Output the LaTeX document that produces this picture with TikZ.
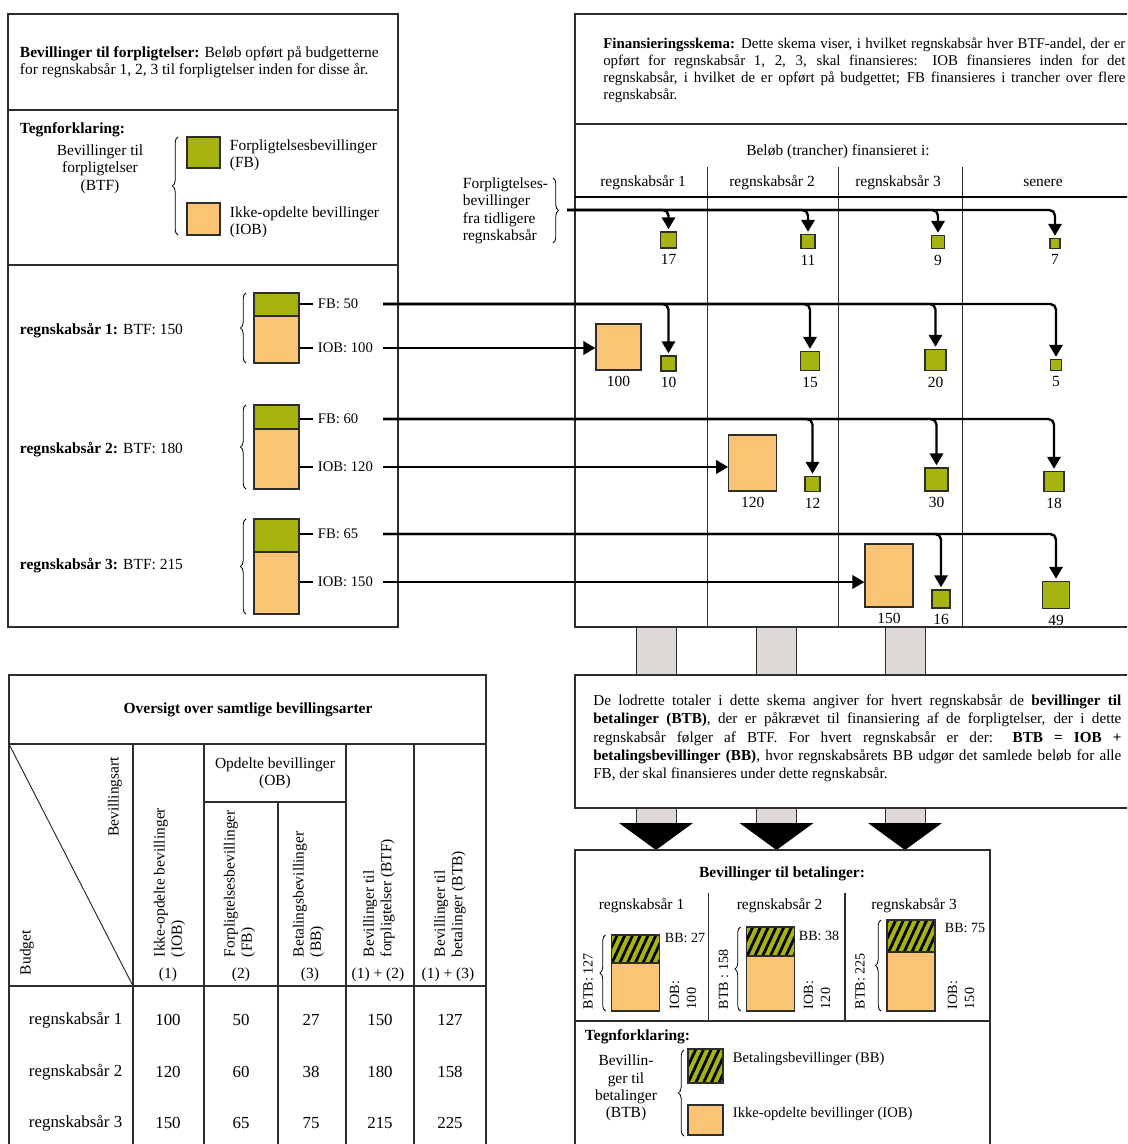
\documentclass[tikz,border=0pt]{standalone}
\usepackage{fontspec}
\setmainfont{Liberation Serif}
\usepackage{xcolor}
\usepackage{tikz}
\usetikzlibrary{arrows.meta,decorations.pathreplacing,patterns.meta,positioning}
\definecolor{fbgreen}{RGB}{167,180,15}
\definecolor{iobgold}{RGB}{249,197,116}
\definecolor{stemgrey}{RGB}{222,216,214}
\definecolor{rulegrey}{RGB}{45,45,45}

\tikzset{
  panel/.style={draw=rulegrey, line width=1pt},
  divider/.style={draw=rulegrey, line width=0.7pt},
  fbsq/.style={draw=rulegrey, line width=0.9pt, fill=fbgreen, inner sep=0pt, minimum size=(#1)*0.025cm},
  fbbar/.style 2 args={draw=rulegrey, line width=0.9pt, fill=fbgreen, inner sep=0pt, minimum width=(#1)*0.025cm, minimum height=(#2)*0.025cm},
  iobbar/.style 2 args={draw=rulegrey, line width=0.9pt, fill=iobgold, inner sep=0pt, minimum width=(#1)*0.025cm, minimum height=(#2)*0.025cm},
  bbbar/.style 2 args={draw=rulegrey, line width=0.9pt, preaction={fill=fbgreen}, pattern={Lines[angle=65,distance=5pt,line width=2pt]}, pattern color=black, inner sep=0pt, minimum width=(#1)*0.025cm, minimum height=(#2)*0.025cm},
  flow/.style={draw=black, line width=1.7pt, rounded corners=4pt, -{Triangle[width=9.5pt,length=8.5pt]}, shorten >=1.5pt},
  tick/.style={draw=black, line width=1.7pt},
  lbrace/.style={decorate, decoration={brace, amplitude=4pt}, line width=0.6pt},
  vlabel/.style={rotate=90, anchor=west, align=left},
  small/.style={font=\fontsize{10}{12}\selectfont},
  mid/.style={font=\fontsize{10.4}{12.5}\selectfont},
}

\begin{document}
\begin{tikzpicture}[x=0.025cm, y=-0.025cm, font=\fontsize{11}{12.4}\selectfont]
\useasboundingbox (0,0) rectangle (1127,1144);
\clip (0,0) rectangle (1127,1144);

% left panel: bevillinger til forpligtelser
\draw[panel] (8,14) rectangle (398,627);
\draw[panel] (8,110) -- (398,110);
\draw[panel] (8,265) -- (398,265);
\node[anchor=west, align=left] (btfhead) at (15,62)
  {\textbf{Bevillinger til forpligtelser:} Beløb opført på budgetterne\\for regnskabsår 1, 2, 3 til forpligtelser inden for disse år.};
\node[anchor=west] (legA) at (15,130) {\textbf{Tegnforklaring:}};
\node[align=center] (btfname) at (100,169) {Bevillinger til\\forpligtelser\\(BTF)};
\node[fbbar={33}{31}] (legfb) at (203.5,152.5) {};
\node[iobbar={33}{32}] (legiob) at (203.5,219) {};
\draw[lbrace] (178,235) -- (178,137);
\node[anchor=west, align=left] (legfbtxt) at (225,155) {Forpligtelsesbevillinger\\(FB)};
\node[anchor=west, align=left] (legiobtxt) at (225,222) {Ikke-opdelte bevillinger\\(IOB)};

\foreach \row/\gtop/\gbot/\obot/\fby/\ioby/\fbv/\iobv/\btf/\laby in
  {1/293/316/363/304/348/50/100/150/331,
   2/405/429/489/419/467/60/120/180/450,
   3/519/552/614/534/582/65/150/215/566}{
  \node[fbbar={45}{\gbot-\gtop}] (g\row) at (276.5,{(\gtop+\gbot)/2}) {};
  \node[iobbar={45}{\obot-\gbot}] (o\row) at (276.5,{(\gbot+\obot)/2}) {};
  \draw[lbrace] (246,\obot) -- (246,\gtop);
  \node[anchor=west] (yr\row) at (15,\laby) {\textbf{regnskabsår \row:} BTF: \btf};
  \node[anchor=west, mid] (fbl\row) at (313,\fby) {FB: \fbv};
  \node[anchor=west, mid] (iobl\row) at (313,\ioby) {IOB: \iobv};
  \draw[tick] (g\row.east |- fbl\row) -- (fbl\row.west);
  \draw[tick] (o\row.east |- iobl\row) -- (iobl\row.west);
  \coordinate (fbs\row) at (383,\fby);
  \coordinate (iobs\row) at (383,\ioby);
}

% block arrows down to the payment panel
\foreach \sx in {656,776.5,905}{
  \draw[divider, fill=stemgrey] (\sx-20,627) rectangle (\sx+20,675);
  \draw[divider, fill=stemgrey] (\sx-20,808) rectangle (\sx+20,824);
  \fill (\sx-37,823) -- (\sx+37,823) -- (\sx,850) -- cycle;
}

% right panel: finansieringsskema
\draw[panel] (1140,14) -- (575,14) -- (575,627) -- (1140,627);
\draw[panel] (575,124) -- (1140,124);
\foreach \cx in {707,838,962} \draw[divider] (\cx,167) -- (\cx,627);
\draw[line width=1.6pt] (575,197) -- (1140,197);
\node[anchor=north west, inner sep=0pt, text width=13.05cm, align=justify, font=\fontsize{10.6}{12.3}\selectfont] (finhead) at (603,37)
  {\textbf{Finansieringsskema:} Dette skema viser, i hvilket regnskabsår hver BTF-andel, der er\linebreak
   opført for regnskabsår 1, 2, 3, skal finansieres: IOB finansieres inden for det\linebreak
   regnskabsår, i hvilket de er opført på budgettet; FB finansieres i trancher over flere\linebreak
   regnskabsår.};
\node (belob) at (838,152) {Beløb (trancher) finansieret i:};
\node (col1) at (643,183) {regnskabsår 1};
\node (col2) at (772,183) {regnskabsår 2};
\node (col3) at (898,183) {regnskabsår 3};
\node (col4) at (1043,183) {senere};
\node[anchor=west, align=left] (prevtxt) at (458,211) {Forpligtelses-\\bevillinger\\fra tidligere\\regnskabsår};
\draw[lbrace] (553,178) -- (553,243);
\coordinate (prevs) at (567,210);

\foreach \sq/\sx/\sy/\sz/\val in {
   p17/668.5/240/16/17, p11/808/241.5/14/11, p9/938/242/13/9, p7/1055/243.5/10/7,
   q1a/668.5/363.5/15/10, q1b/810/361/19/15, q1c/935.5/360/21/20, q1d/1056/365/11/5,
   q2a/812.5/484/15/12, q2b/936.5/479.5/23/30, q2c/1054/481.5/20/18,
   q3a/941/599/18/16, q3b/1056/595/27/49}{
  \node[fbsq=\sz] (\sq) at (\sx,\sy) {};
  \node[below=0.5pt of \sq] (\sq l) {\val};
}
\node[iobbar={45}{46}] (b100) at (618.5,347) {};
\node[iobbar={48}{56}] (b120) at (752.75,463) {};
\node[iobbar={48}{63}] (b150) at (889,575.5) {};
\node[below=0.5pt of b100] (b100l) {100};
\node[below=0.5pt of b120] (b120l) {120};
\node[below=0.5pt of b150] (b150l) {150};

\foreach \sq in {p17,p11,p9,p7} \draw[flow] (prevs) -| (\sq);
\foreach \sq in {q1a,q1b,q1c,q1d} \draw[flow] (fbs1) -| (\sq);
\foreach \sq in {q2a,q2b,q2c} \draw[flow] (fbs2) -| (\sq);
\foreach \sq in {q3a,q3b} \draw[flow] (fbs3) -| (\sq);
\draw[flow, shorten >=0pt] (iobs1) -- (iobs1 -| b100.west);
\draw[flow, shorten >=0pt] (iobs2) -- (iobs2 -| b120.west);
\draw[flow, shorten >=0pt] (iobs3) -- (iobs3 -| b150.west);

% middle panel: BTB explanation
\draw[panel] (1140,675) -- (575,675) -- (575,808) -- (1140,808);
\node[anchor=north west, inner sep=0pt, text width=13.2cm, align=justify, font=\fontsize{10.8}{13.1}\selectfont] (btbtext) at (593,694)
  {De lodrette totaler i dette skema angiver for hvert regnskabsår de \textbf{bevillinger til}\linebreak
   \textbf{betalinger (BTB)}, der er påkrævet til finansiering af de forpligtelser, der i dette\linebreak
   regnskabsår følger af BTF. For hvert regnskabsår er der: \textbf{BTB = IOB +}\linebreak
   \textbf{betalingsbevillinger (BB)}, hvor regnskabsårets BB udgør det samlede beløb for alle\linebreak
   FB, der skal finansieres under dette regnskabsår.};

% bottom right panel: bevillinger til betalinger
\draw[panel] (575,1150) -- (575,850) -- (990,850) -- (990,1150);
\draw[panel] (575,1021) -- (990,1021);
\foreach \cx in {708.5,845} \draw[panel] (\cx,893) -- (\cx,1021);
\node (btbtitle) at (782,874) {\textbf{Bevillinger til betalinger:}};
\foreach \col/\hx/\bl/\htop/\cut/\bbv/\iobv/\btbv/\btbx/\bbx/\bby/\iobx in {
  1/641.5/611.5/935/963/27/100/{BTB: 127}/588/664/938/683,
  2/779.5/746.5/927/956/38/120/{BTB : 158}/723.5/798/936/817,
  3/914/887/920/952/75/150/{BTB: 225}/860/944/928/961}{
  \node (bh\col) at (\hx,906) {regnskabsår \col};
  \node[bbbar={48}{\cut-\htop}] (bb\col) at (\bl+24,{(\htop+\cut)/2}) {};
  \node[iobbar={48}{1011-\cut}] (io\col) at (\bl+24,{(\cut+1011)/2}) {};
  \draw[lbrace] (\bl-6,1011) -- (\bl-6,\htop);
  \node[vlabel, small] (btb\col) at (\btbx,1014) {\btbv};
  \node[anchor=west, small] (bbl\col) at (\bbx-4,\bby) {BB: \bbv};
  \node[vlabel, small] (iobl\col) at (\iobx,1014) {IOB:\\\iobv};
}
\node[anchor=west] (legB) at (580,1037) {\textbf{Tegnforklaring:}};
\node[align=center] (btbname) at (626,1088) {Bevillin-\\ger til\\betalinger\\(BTB)};
\draw[lbrace] (684,1136) -- (684,1050);
\node[bbbar={35}{34}] (legbb) at (705.5,1066) {};
\node[iobbar={35}{30}] (legio) at (705.5,1120) {};
\node[anchor=west, mid] (legbbtxt) at (728,1059) {Betalingsbevillinger (BB)};
\node[anchor=west, mid] (legiotxt) at (728,1114) {Ikke-opdelte bevillinger (IOB)};

% bottom left table: oversigt
\draw[panel] (9,1150) -- (9,675) -- (486,675) -- (486,1150);
\draw[panel] (9,744) -- (486,744);
\draw[panel] (9,986) -- (486,986);
\foreach \vx in {133,204,346,414} \draw[panel] (\vx,744) -- (\vx,1150);
\draw[panel] (204,802) -- (346,802);
\draw[panel] (278,802) -- (278,1150);
\draw[divider] (9,744) -- (133,986);
\node (tabtitle) at (248,710) {\textbf{Oversigt over samtlige bevillingsarter}};
\node[rotate=90, anchor=east] (artlab) at (115,752) {Bevillingsart};
\node[vlabel] (budlab) at (27,980) {Budget};
\node[align=center] (oblab) at (275,773) {Opdelte bevillinger\\(OB)};
\foreach \hd/\hx/\txt/\sx/\sub in {
  1/169.5/{Ikke-opdelte bevillinger\\(IOB)}/168/{(1)},
  2/239.5/{Forpligtelsesbevillinger\\(FB)}/241/{(2)},
  3/308.5/{Betalingsbevillinger\\(BB)}/310/{(3)},
  4/379/{Bevillinger til\\forpligtelser (BTF)}/378/{(1) + (2)},
  5/450/{Bevillinger til\\betalinger (BTB)}/448/{(1) + (3)}}{
  \node[vlabel] (th\hd) at (\hx,962) {\txt};
  \node (ts\hd) at (\sx,975) {\sub};
}
\foreach \row/\ry/\va/\vb/\vc/\vd/\ve in {1/1020/100/50/27/150/127, 2/1072/120/60/38/180/158, 3/1123/150/65/75/215/225}{
  \node[anchor=west, font=\large] (tr\row) at (24,\ry) {regnskabsår \row};
  \node[font=\large] (ta\row) at (168,\ry) {\va};
  \node[font=\large] (tb\row) at (241,\ry) {\vb};
  \node[font=\large] (tc\row) at (311,\ry) {\vc};
  \node[font=\large] (td\row) at (380,\ry) {\vd};
  \node[font=\large] (te\row) at (450,\ry) {\ve};
}
\end{tikzpicture}
\end{document}
